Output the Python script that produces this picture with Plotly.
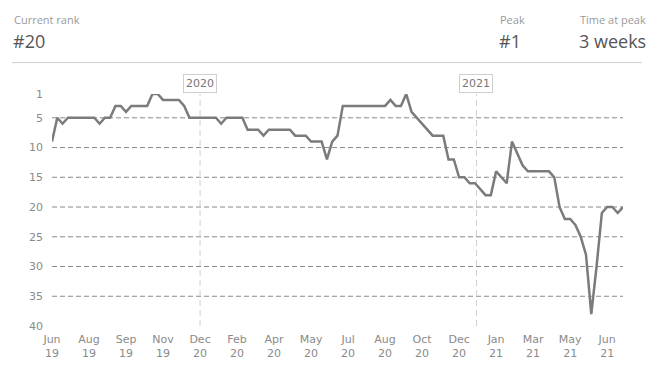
import datetime as dt
import plotly.graph_objects as go

# ---- data ----
start_date = dt.date(2019, 6, 19)
ranks = [
    9, 5, 6, 5, 5, 5, 5, 5, 5, 6,
    5, 5, 3, 3, 4, 3, 3, 3, 3, 1,
    1, 2, 2, 2, 2, 3, 5, 5, 5, 5,
    5, 5, 6, 5, 5, 5, 5, 7, 7, 7,
    8, 7, 7, 7, 7, 7, 8, 8, 8, 9,
    9, 9, 12, 9, 8, 3, 3, 3, 3, 3,
    3, 3, 3, 3, 2, 3, 3, 1, 4, 5,
    6, 7, 8, 8, 8, 12, 12, 15, 15, 16,
    16, 17, 18, 18, 14, 15, 16, 9, 11, 13,
    14, 14, 14, 14, 14, 15, 20, 22, 22, 23,
    25, 28, 38, 30, 21, 20, 20, 21, 20,
]
tick_labels = ["Jun<br>19", "Aug<br>19", "Sep<br>19", "Nov<br>19", "Dec<br>20",
               "Feb<br>20", "Apr<br>20", "May<br>20", "Jul<br>20", "Aug<br>20",
               "Oct<br>20", "Dec<br>20", "Jan<br>21", "Mar<br>21", "May<br>21",
               "Jun<br>21"]
tick_step_days = 49
y_ticks = [1, 5, 10, 15, 20, 25, 30, 35, 40]
grid_ranks = [5, 10, 15, 20, 25, 30, 35]
year_marks = ["2020-01-01", "2021-01-01"]
year_labels = ["2020", "2021"]
header = [("Current rank", "#20", 12), ("Peak", "#1", 498), ("Time at peak", "3 weeks", 578)]

dates = [start_date + dt.timedelta(weeks=i) for i in range(len(ranks))]
tick_vals = [start_date + dt.timedelta(days=tick_step_days * i) for i in range(len(tick_labels))]

# page has an 8px body margin; figure sits at (8, 8)
OFF = 8
W, H = 654 - OFF, 373 - OFF
L, R, T, B = 52 - OFF, 31, 93.5 - OFF, 47
plot_w = W - L - R
plot_h = H - T - B

def px_x(p):
    return (p - OFF - L) / plot_w

def px_y(p):
    return (H - B - (p - OFF)) / plot_h

fig = go.Figure()
fig.add_trace(go.Scatter(
    x=dates, y=ranks, mode="lines",
    line=dict(color="#7b7b7b", width=2.5),
    hoverinfo="skip", showlegend=False,
))

for g in grid_ranks:
    fig.add_shape(type="line", xref="paper", x0=0, x1=1, yref="y", y0=g, y1=g,
                  line=dict(color="#8c8c8c", width=1, dash="5px,3px"), layer="below")

for d, lab in zip(year_marks, year_labels):
    fig.add_shape(type="line", xref="x", x0=d, x1=d, yref="paper", y0=0, y1=1,
                  line=dict(color="#cfcfcf", width=1, dash="6px,4px"), layer="below")
    fig.add_annotation(x=d, xref="x", y=1.005, yref="paper", yanchor="bottom",
                       text=lab, showarrow=False,
                       font=dict(family="DejaVu Sans", size=11, color="#777"),
                       bordercolor="#cfcfcf", borderwidth=1, borderpad=2,
                       bgcolor="white")

for small, big, xp in header:
    fig.add_annotation(x=px_x(xp), xref="paper", y=px_y(19), yref="paper",
                       xanchor="left", yanchor="middle", text=small, showarrow=False,
                       font=dict(family="Open Sans", size=11, color="#9a9a9a"))
    fig.add_annotation(x=px_x(xp - 1), xref="paper", y=px_y(40), yref="paper",
                       xanchor="left", yanchor="middle", text=big, showarrow=False,
                       font=dict(family="Open Sans", size=18, color="#555"))

fig.add_shape(type="line", xref="paper", x0=px_x(12), x1=px_x(642),
              yref="paper", y0=px_y(62), y1=px_y(62),
              line=dict(color="#d0d0d0", width=1))

fig.update_layout(
    width=W, height=H,
    margin=dict(l=L, r=R, t=T, b=B, pad=0),
    paper_bgcolor="white", plot_bgcolor="white",
    xaxis=dict(
        type="date", range=[dates[0], dates[-1]],
        tickvals=tick_vals, ticktext=tick_labels,
        showgrid=False, zeroline=False, showline=False, ticks="",
        ticklabelstandoff=5,
        tickfont=dict(family="DejaVu Sans", size=11, color="#8a8a8a"),
        fixedrange=True,
    ),
    yaxis=dict(
        range=[40, 1], tickvals=y_ticks, ticktext=[str(v) for v in y_ticks],
        showgrid=False, zeroline=False, showline=False, ticks="",
        ticklabelstandoff=8,
        tickfont=dict(family="DejaVu Sans", size=11, color="#8a8a8a"),
        fixedrange=True,
    ),
)

fig.write_html("out.html")
